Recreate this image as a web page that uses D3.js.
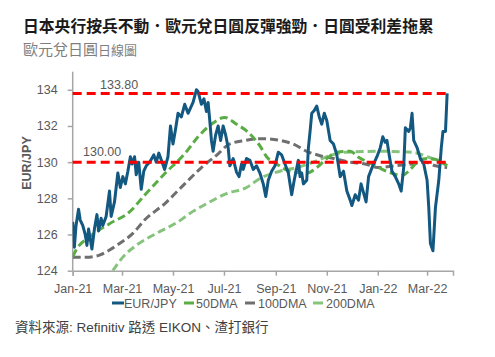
<!DOCTYPE html>
<html><head><meta charset="utf-8">
<script src="https://cdn.jsdelivr.net/npm/d3@7"></script>
<style>
body{margin:0;background:#fff;}
svg{display:block;font-family:"Liberation Sans",Arial,"Noto Sans CJK TC",sans-serif;}
</style>
</head><body>
<svg id="chart" width="495" height="357"></svg>
<script>
const titleText = "日本央行按兵不動．歐元兌日圓反彈強勁．日圓受利差拖累";
const subtitleMain = "歐元兌日圓";
const subtitleSmall = "日線圖";
const sourceText = "資料來源: Refinitiv 路透 EIKON、渣打銀行";
const yLabel = "EUR/JPY";
const seriesNames = ["EUR/JPY", "50DMA", "100DMA", "200DMA"];
const yTicks = [124, 126, 128, 130, 132, 134];
const xTickDates = ["2021-01-01","2021-03-01","2021-05-01","2021-07-01","2021-09-01","2021-11-01","2022-01-01","2022-03-01"];
const refLevels = [133.80, 130.00];

const fxDates = ["2021-01-01","2021-01-03","2021-01-05","2021-01-08","2021-01-10","2021-01-13","2021-01-16","2021-01-18","2021-01-20","2021-01-24",
"2021-01-27","2021-01-30","2021-02-01","2021-02-04","2021-02-06","2021-02-10","2021-02-14","2021-02-16","2021-02-20","2021-02-24",
"2021-02-27","2021-03-02","2021-03-05","2021-03-08","2021-03-11","2021-03-13","2021-03-16","2021-03-18","2021-03-21","2021-03-24",
"2021-03-27","2021-03-30","2021-04-03","2021-04-08","2021-04-11","2021-04-14","2021-04-18","2021-04-21","2021-04-25","2021-04-28",
"2021-05-01","2021-05-04","2021-05-07","2021-05-11","2021-05-15","2021-05-19","2021-05-22","2021-05-25","2021-05-29","2021-05-31",
"2021-06-04","2021-06-07","2021-06-10","2021-06-12","2021-06-14","2021-06-16","2021-06-18","2021-06-21","2021-06-24","2021-06-27",
"2021-06-30","2021-07-03","2021-07-06","2021-07-08","2021-07-12","2021-07-16","2021-07-19","2021-07-22","2021-07-24","2021-07-28",
"2021-08-01","2021-08-05","2021-08-09","2021-08-13","2021-08-17","2021-08-20","2021-08-23","2021-08-27","2021-08-31","2021-09-04",
"2021-09-08","2021-09-12","2021-09-16","2021-09-20","2021-09-23","2021-09-27","2021-09-28","2021-09-30","2021-10-02","2021-10-04",
"2021-10-08","2021-10-10","2021-10-12","2021-10-14","2021-10-17","2021-10-20","2021-10-23","2021-10-26","2021-10-29","2021-11-01",
"2021-11-05","2021-11-09","2021-11-13","2021-11-17","2021-11-21","2021-11-25","2021-11-29","2021-12-01","2021-12-05","2021-12-09",
"2021-12-12","2021-12-15","2021-12-18","2021-12-21","2021-12-26","2021-12-31","2022-01-04","2022-01-07","2022-01-10","2022-01-12",
"2022-01-15","2022-01-18","2022-01-22","2022-01-26","2022-01-29","2022-02-01","2022-02-03","2022-02-07","2022-02-09","2022-02-11",
"2022-02-13","2022-02-17","2022-02-21","2022-02-25","2022-03-01","2022-03-03","2022-03-05","2022-03-08","2022-03-11","2022-03-15",
"2022-03-18","2022-03-20","2022-03-23","2022-03-25"];
const fxValues = [126.7,125.3,126.5,127.4,126.8,126.5,126.0,125.4,126.3,125.2,
126.3,127.1,126.2,126.9,126.5,127.0,128.4,127.0,127.8,129.4,
128.6,129.2,128.8,129.5,130.3,129.9,130.3,129.3,130.0,128.5,
129.5,129.8,130.0,130.4,130.0,130.5,130.0,129.6,130.3,132.0,
131.0,131.8,132.7,132.5,133.2,132.7,133.0,133.3,134.0,133.9,
133.2,133.5,132.8,133.3,132.3,131.2,130.6,131.5,132.0,131.2,
132.0,131.5,130.8,129.8,130.2,129.45,129.2,129.9,129.6,130.2,
130.1,129.6,129.8,129.4,128.8,128.1,129.0,129.5,129.8,130.55,
130.4,129.9,129.4,128.2,129.0,129.9,130.1,129.2,129.4,128.8,
129.0,130.8,131.7,132.7,132.85,133.1,132.5,132.1,132.7,132.3,
131.2,131.0,130.4,129.2,129.5,128.4,127.9,127.6,128.2,127.9,
128.8,128.3,127.8,129.2,129.8,130.3,130.8,131.4,131.1,131.2,
130.3,129.5,129.2,128.8,128.4,129.7,131.9,131.7,131.9,132.7,
131.2,130.8,130.2,129.9,129.0,127.5,125.5,125.1,127.5,129.0,
130.8,131.7,131.7,133.8];

const ma50Dates = ["2021-01-01","2021-01-05","2021-01-21","2021-02-14","2021-03-10","2021-03-28","2021-04-21","2021-05-15","2021-05-31","2021-06-16",
"2021-07-02","2021-07-16","2021-07-30","2021-08-13","2021-08-21","2021-09-02","2021-09-18","2021-10-08","2021-10-20","2021-11-01",
"2021-11-13","2021-11-29","2021-12-09","2021-12-25","2022-01-14","2022-01-30","2022-02-11","2022-02-19","2022-03-03","2022-03-15","2022-03-25"];
const ma50Values = [124.77,125.14,125.87,126.6,127.25,128.17,129.36,130.46,131.4,132.1,
132.47,132.1,131.65,130.9,130.3,129.9,129.5,129.4,129.7,130.2,
130.55,130.6,130.27,129.9,129.45,129.27,129.7,130.1,130.2,130.1,129.8];

const ma100Dates = ["2021-01-01","2021-01-17","2021-02-02","2021-02-14","2021-02-26","2021-03-14","2021-03-28","2021-04-21","2021-05-15","2021-06-04",
"2021-06-24","2021-07-06","2021-07-26","2021-08-13","2021-09-06","2021-09-22","2021-10-08","2021-10-23","2021-11-09","2021-11-29",
"2021-12-17","2022-01-01","2022-01-22","2022-02-11","2022-02-27","2022-03-11","2022-03-25"];
const ma100Values = [124.74,124.74,124.86,125.14,125.5,126.06,126.8,127.7,128.8,129.7,
130.46,130.96,131.2,131.3,131.2,131.0,130.6,130.37,130.2,130.0,
129.9,129.7,129.8,129.9,130.0,129.8,129.7];

const ma200Dates = ["2021-02-18","2021-03-02","2021-03-18","2021-04-11","2021-05-07","2021-05-21","2021-06-10","2021-07-04","2021-07-28","2021-08-13",
"2021-09-06","2021-09-26","2021-10-16","2021-11-05","2021-11-23","2022-01-01","2022-02-11","2022-03-03","2022-03-25"];
const ma200Values = [124.0,124.75,125.4,126.06,126.7,127.16,127.7,128.26,128.6,129.1,
129.5,129.7,130.0,130.37,130.55,130.6,130.55,130.27,129.8];

const colors = {fx:"#125880", ma50:"#5aac44", ma100:"#6f6f6f", ma200:"#86c47d", ref:"#ff0000", axis:"#a6a6a6", text:"#595959"};

const parse = d3.timeParse("%Y-%m-%d");
const zip = (ds, vs) => ds.map((d,i)=>({date:parse(d), value:vs[i]}));
const fx = zip(fxDates, fxValues), ma50 = zip(ma50Dates, ma50Values),
      ma100 = zip(ma100Dates, ma100Values), ma200 = zip(ma200Dates, ma200Values);

const svg = d3.select("#chart");
const x = d3.scaleTime().domain([parse("2021-01-01"), parse("2022-04-01")]).range([72.7, 453]);
const y = d3.scaleLinear().domain([124, 135]).range([270.7, 71.7]);

svg.append("defs").append("clipPath").attr("id","clip").append("rect")
  .attr("x",72.7).attr("y",60).attr("width",390).attr("height",210.7);

// Title
svg.append("text").attr("x",23).attr("y",32).attr("font-family","'Noto Sans CJK TC',sans-serif")
  .attr("font-size",15.8).attr("font-weight","bold").attr("fill","#1a1a1a").text(titleText);
const sub = svg.append("text").attr("x",23).attr("y",55).attr("font-family","'Noto Sans CJK TC',sans-serif").attr("fill","#7f7f7f");
sub.append("tspan").attr("font-size",15).text(subtitleMain);
sub.append("tspan").attr("font-size",13).text(subtitleSmall);

// Axes
const yAxis = d3.axisLeft(y).tickValues(yTicks).tickSize(5).tickPadding(10).tickFormat(d3.format("d"));
const gy = svg.append("g").attr("transform","translate(72.7,0)").call(yAxis);
const xAxis = d3.axisBottom(x).tickValues(xTickDates.map(parse)).tickSize(5).tickPadding(6).tickFormat(d3.timeFormat("%b-%y"));
const gx = svg.append("g").attr("transform","translate(0,270.7)").call(xAxis);
[gx, gy].forEach(g=>{
  g.select(".domain").attr("stroke",colors.axis).attr("stroke-width",1.5);
  g.selectAll(".tick line").attr("stroke",colors.axis).attr("stroke-width",1.5);
  g.selectAll(".tick text").attr("fill",colors.text).attr("font-size",12.5)
   .attr("font-family","'Liberation Sans',Arial,sans-serif");
});
gx.selectAll(".tick text").attr("dy","0.9em");
gy.select(".domain").attr("d","M0,270.7V71.7");

svg.append("text").attr("transform","translate(31,163) rotate(-90)").attr("text-anchor","middle")
  .attr("font-size",12.5).attr("font-weight","bold").attr("fill",colors.text).text(yLabel);

// Lines
const plot = svg.append("g").attr("clip-path","url(#clip)");
const smooth = d3.line().x(d=>x(d.date)).y(d=>y(d.value)).curve(d3.curveMonotoneX);
const straight = d3.line().x(d=>x(d.date)).y(d=>y(d.value));
[[ma200,colors.ma200],[ma100,colors.ma100],[ma50,colors.ma50]].forEach(([data,c])=>{
  plot.append("path").datum(data).attr("d",smooth).attr("fill","none").attr("stroke",c)
    .attr("stroke-width",3).attr("stroke-dasharray","8,4");
});
plot.append("path").datum(fx).attr("d",straight).attr("fill","none").attr("stroke",colors.fx)
  .attr("stroke-width",3).attr("stroke-linejoin","round");

// Reference lines
const lastDate = fx[fx.length-1].date;
refLevels.forEach(v=>{
  svg.append("line").attr("x1",x(parse("2021-01-01"))).attr("x2",x(lastDate))
    .attr("y1",y(v)).attr("y2",y(v)).attr("stroke",colors.ref).attr("stroke-width",3).attr("stroke-dasharray","9,5");
});
svg.append("text").attr("x",100).attr("y",y(refLevels[0])-4).attr("font-size",12.5).attr("fill",colors.text).text(refLevels[0].toFixed(2));
svg.append("text").attr("x",83).attr("y",y(refLevels[1])-6).attr("font-size",12.5).attr("fill",colors.text).text(refLevels[1].toFixed(2));

// Legend
const legendItems = [
  {name:seriesNames[0], c:colors.fx, x1:112, x2:124, tx:124},
  {name:seriesNames[1], c:colors.ma50, x1:184, x2:194, tx:196},
  {name:seriesNames[2], c:colors.ma100, x1:245, x2:255, tx:258},
  {name:seriesNames[3], c:colors.ma200, x1:313, x2:323, tx:326}
];
const lg = svg.append("g");
legendItems.forEach(it=>{
  lg.append("line").attr("x1",it.x1).attr("x2",it.x2).attr("y1",303).attr("y2",303).attr("stroke",it.c).attr("stroke-width",3);
  lg.append("text").attr("x",it.tx).attr("y",307.5).attr("font-size",12.5).attr("fill",colors.text).text(it.name);
});

// Source
svg.append("text").attr("x",15).attr("y",332).attr("font-size",13.5).attr("fill","#404040")
  .attr("font-family","'Liberation Sans',Arial,'Noto Sans CJK TC',sans-serif").text(sourceText);
</script>
</body></html>
